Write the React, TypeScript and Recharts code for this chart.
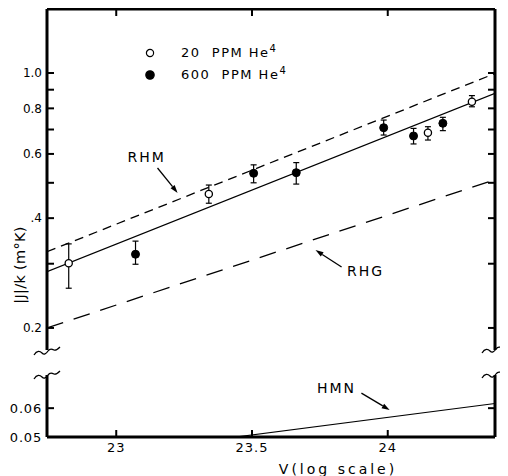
import React from 'react';
import {
  ComposedChart,
  Line,
  Scatter,
  ErrorBar,
  XAxis,
  YAxis,
  ReferenceLine,
  ReferenceDot,
  Legend,
} from 'recharts';

const FONT = '"DejaVu Sans", "Liberation Sans", sans-serif';

// ---------- axes ----------
const xDomain = [22.745, 24.395];
const xTicks = [23, 23.5, 24];
const xTickLabels = ['23', '23.5', '24'];
const upperDomain = [0.174, 1.498];
const upperTicks = [0.2, 0.3, 0.4, 0.5, 0.6, 0.7, 0.8, 0.9, 1.0];
const upperTickLabels = ['0.2', '', '.4', '', '0.6', '', '0.8', '', '1.0'];
const lowerDomain = [0.05, 0.074];
const lowerTicks = [0.05, 0.06];
const lowerTickLabels = ['0.05', '0.06'];

// ---------- data points ----------
const seriesNames = ['20 PPM He', '600 PPM He'];

const openV = [22.825, 23.341, 24.148, 24.31];
const openJ = [0.301, 0.466, 0.686, 0.834];
const openHi = [0.34, 0.493, 0.7125, 0.867];
const openLo = [0.257, 0.4395, 0.655, 0.808];

const filledV = [23.071, 23.506, 23.663, 23.985, 24.095, 24.203];
const filledJ = [0.3185, 0.531, 0.533, 0.708, 0.672, 0.728];
const filledHi = [0.346, 0.56, 0.568, 0.743, 0.705, 0.756];
const filledLo = [0.299, 0.5, 0.496, 0.676, 0.639, 0.695];

// ---------- theory lines ----------
const fitV = [22.745, 24.395];
const fitJ = [0.2852, 0.88];
const rhmV = [22.745, 24.395];
const rhmJ = [0.3236, 0.997];
const rhgV = [22.745, 24.395];
const rhgJ = [0.2, 0.51];
const hmnV = [23.44, 24.395];
const hmnJ = [0.05, 0.0618];

// ---------- annotations (data coords) ----------
const upperNoteNames = ['RHM', 'RHG'];
const upperNoteV = [23.112, 23.918];
const upperNoteJ = [0.589, 0.2866];
const upperArrowFromV = [23.152, 23.83];
const upperArrowFromJ = [0.549, 0.2938];
const upperArrowToV = [23.226, 23.734];
const upperArrowToJ = [0.469, 0.327];

const lowerNoteNames = ['HMN'];
const lowerNoteV = [23.811];
const lowerNoteJ = [0.0681];
const lowerArrowFromV = [23.903];
const lowerArrowFromJ = [0.066];
const lowerArrowToV = [24.007];
const lowerArrowToJ = [0.0593];

const yTitle = '|J|/k (m°K)';
const xTitle = 'V(log scale)';

// ---------- tables ----------
const openData = openV.map((x, i) => ({
  x,
  y: openJ[i],
  err: [openJ[i] - openLo[i], openHi[i] - openJ[i]],
}));
const filledData = filledV.map((x, i) => ({
  x,
  y: filledJ[i],
  err: [filledJ[i] - filledLo[i], filledHi[i] - filledJ[i]],
}));
const toLine = (xs: number[], ys: number[]) => xs.map((x, i) => ({ x, y: ys[i] }));
const fitData = toLine(fitV, fitJ);
const rhmData = toLine(rhmV, rhmJ);
const rhgData = toLine(rhgV, rhgJ);
const hmnData = toLine(hmnV, hmnJ);

const axisLine = { stroke: '#000', strokeWidth: 3 };
const tickLine = { stroke: '#000', strokeWidth: 2 };
const TS = -7;

const Arrow = (props: any) => {
  const { x1, y1, x2, y2 } = props;
  if ([x1, y1, x2, y2].some((v) => v == null || isNaN(v))) return <g />;
  const ang = Math.atan2(y2 - y1, x2 - x1);
  const L = 8;
  const W = 2.6;
  const bx = x2 - L * Math.cos(ang);
  const by = y2 - L * Math.sin(ang);
  const px = -Math.sin(ang) * W;
  const py = Math.cos(ang) * W;
  return (
    <g>
      <line x1={x1} y1={y1} x2={bx} y2={by} stroke="#000" strokeWidth={1.3} />
      <polygon
        points={`${x2},${y2} ${bx + px},${by + py} ${bx - px},${by - py}`}
        fill="#000"
      />
    </g>
  );
};

const OpenDot = (p: any) => (
  <circle cx={p.cx} cy={p.cy} r={3.6} fill="#fff" stroke="#000" strokeWidth={1.3} />
);
const FilledDot = (p: any) => (
  <circle cx={p.cx} cy={p.cy} r={4} fill="#000" stroke="#000" strokeWidth={1} />
);

const renderLegend = (props: any) => {
  const payload = (props.payload || []).filter((e: any) =>
    seriesNames.includes(e.value)
  );
  return (
    <div style={{ fontFamily: FONT, fontSize: 13, letterSpacing: 1.5, color: '#000' }}>
      {payload.map((e: any, i: number) => {
        const filled = seriesNames.indexOf(e.value) === 1;
        return (
          <div key={i} style={{ display: 'flex', alignItems: 'center', height: 22 }}>
            <svg width={10} height={10} style={{ display: 'block' }}>
              <circle
                cx={5}
                cy={5}
                r={filled ? 4.2 : 3.6}
                fill={filled ? '#000' : '#fff'}
                stroke="#000"
                strokeWidth={1.2}
              />
            </svg>
            <span style={{ marginLeft: 26, whiteSpace: 'pre', lineHeight: '14px' }}>
              {e.value.replace(' ', '  ')}
              <sup style={{ fontSize: 10, lineHeight: 0 }}>4</sup>
            </span>
          </div>
        );
      })}
    </div>
  );
};

const YTitle = (props: any) => {
  const vb = props.viewBox || { x: 0, y: 30 };
  const cx = vb.x + 12;
  const cy = vb.y + 256;
  return (
    <text
      x={cx}
      y={cy}
      transform={`rotate(-90 ${cx} ${cy})`}
      textAnchor="middle"
      dominantBaseline="central"
      fontFamily={FONT}
      fontSize={14.5}
      letterSpacing={0.3}
      fill="#000"
    >
      {yTitle}
    </text>
  );
};

const XTitle = (props: any) => {
  const vb = props.viewBox || { x: 39, y: 62 };
  return (
    <text
      x={vb.x + 291}
      y={vb.y + 37}
      textAnchor="middle"
      fontFamily={FONT}
      fontSize={14}
      letterSpacing={3}
      fill="#000"
    >
      {xTitle}
    </text>
  );
};

const noteLabel = (name: string) => ({
  value: name,
  position: 'center' as const,
  fontFamily: FONT,
  fontSize: 14,
  letterSpacing: 2,
  fill: '#000',
});

const Break = ({ cx, cy }: { cx: number; cy: number }) => (
  <path
    d={`M ${cx - 13} ${cy + 4} C ${cx - 10} ${cy - 1} ${cx - 7} ${cy} ${cx - 5} ${cy + 2} C ${cx - 3} ${cy + 4} ${cx - 1} ${cy + 3} ${cx + 1} ${cy} C ${cx + 3} ${cy - 3} ${cx + 5} ${cy - 2} ${cx + 7} ${cy - 1} C ${cx + 9} ${cy} ${cx + 11} ${cy - 2} ${cx + 13} ${cy - 4}`}
    fill="none"
    stroke="#000"
    strokeWidth={1.3}
  />
);

export default function App() {
  return (
    <div style={{ position: 'relative', width: 500, height: 468, fontFamily: FONT }}>
      {/* upper panel */}
      <div style={{ position: 'absolute', left: 0, top: -29 }}>
        <ComposedChart width={500} height={371} margin={{ top: 0, right: 8, bottom: 0, left: 0 }}>
          <XAxis
            xAxisId="top"
            orientation="top"
            type="number"
            dataKey="x"
            domain={xDomain}
            allowDataOverflow
            ticks={xTicks}
            height={30}
            axisLine={axisLine}
            tickLine={tickLine}
            tickSize={TS}
            tickFormatter={() => ''}
          />
          <YAxis
            yAxisId="left"
            orientation="left"
            dataKey="y"
            scale="log"
            type="number"
            domain={upperDomain}
            allowDataOverflow
            ticks={upperTicks}
            width={39}
            axisLine={axisLine}
            tickLine={tickLine}
            tickSize={TS}
            tickMargin={12}
            tick={{ fontFamily: FONT, fontSize: 12, fill: '#000' }}
            tickFormatter={(v: number, i: number) => upperTickLabels[i] ?? ''}
            label={YTitle}
          />
          <YAxis
            yAxisId="right"
            orientation="right"
            dataKey="y"
            scale="log"
            type="number"
            domain={upperDomain}
            allowDataOverflow
            ticks={upperTicks}
            width={5}
            axisLine={axisLine}
            tickLine={tickLine}
            tickSize={TS}
            tickFormatter={() => ''}
          />
          <Legend
            layout="vertical"
            align="center"
            verticalAlign="middle"
            content={renderLegend}
            wrapperStyle={{ top: 63, left: 137, width: 200, height: 44 }}
          />
          <Line
            xAxisId="top"
            yAxisId="left"
            data={rhmData}
            dataKey="y"
            stroke="#000"
            strokeWidth={1.3}
            strokeDasharray="9 6"
            dot={false}
            legendType="none"
            isAnimationActive={false}
          />
          <Line
            xAxisId="top"
            yAxisId="left"
            data={fitData}
            dataKey="y"
            stroke="#000"
            strokeWidth={1.2}
            dot={false}
            legendType="none"
            isAnimationActive={false}
          />
          <Line
            xAxisId="top"
            yAxisId="left"
            data={rhgData}
            dataKey="y"
            stroke="#000"
            strokeWidth={1.3}
            strokeDasharray="17 11"
            dot={false}
            legendType="none"
            isAnimationActive={false}
          />
          <Scatter
            xAxisId="top"
            yAxisId="left"
            name={seriesNames[0]}
            data={openData}
            dataKey="y"
            fill="#fff"
            shape={OpenDot}
            isAnimationActive={false}
          >
            <ErrorBar dataKey="err" direction="y" width={3} stroke="#000" strokeWidth={1.2} />
          </Scatter>
          <Scatter
            xAxisId="top"
            yAxisId="left"
            name={seriesNames[1]}
            data={filledData}
            dataKey="y"
            fill="#000"
            shape={FilledDot}
            isAnimationActive={false}
          >
            <ErrorBar dataKey="err" direction="y" width={3} stroke="#000" strokeWidth={1.2} />
          </Scatter>
          {upperNoteNames.map((n, i) => (
            <ReferenceDot
              key={n}
              xAxisId="top"
              yAxisId="left"
              x={upperNoteV[i]}
              y={upperNoteJ[i]}
              r={0}
              fill="none"
              stroke="none"
              label={noteLabel(n)}
            />
          ))}
          {upperNoteNames.map((n, i) => (
            <ReferenceLine
              key={n + '-arrow'}
              xAxisId="top"
              yAxisId="left"
              segment={[
                { x: upperArrowFromV[i], y: upperArrowFromJ[i] },
                { x: upperArrowToV[i], y: upperArrowToJ[i] },
              ]}
              stroke="#000"
              shape={Arrow}
            />
          ))}
        </ComposedChart>
      </div>

      {/* lower panel */}
      <div style={{ position: 'absolute', left: 0, top: 367 }}>
        <ComposedChart width={500} height={110} margin={{ top: 0, right: 8, bottom: 0, left: 0 }}>
          <XAxis
            xAxisId="bottom"
            orientation="bottom"
            type="number"
            dataKey="x"
            domain={xDomain}
            allowDataOverflow
            ticks={xTicks}
            height={48}
            axisLine={axisLine}
            tickLine={tickLine}
            tickSize={TS}
            tickMargin={13}
            tick={{ fontFamily: FONT, fontSize: 13, fill: '#000', letterSpacing: 1 }}
            tickFormatter={(v: number, i: number) => xTickLabels[i] ?? ''}
            label={XTitle}
          />
          <YAxis
            yAxisId="left"
            orientation="left"
            dataKey="y"
            scale="log"
            type="number"
            domain={lowerDomain}
            allowDataOverflow
            ticks={lowerTicks}
            width={39}
            axisLine={axisLine}
            tickLine={tickLine}
            tickSize={TS}
            tickMargin={12}
            tick={{ fontFamily: FONT, fontSize: 13, fill: '#000', letterSpacing: 0.8 }}
            tickFormatter={(v: number, i: number) => lowerTickLabels[i] ?? ''}
          />
          <YAxis
            yAxisId="right"
            orientation="right"
            dataKey="y"
            scale="log"
            type="number"
            domain={lowerDomain}
            allowDataOverflow
            ticks={[lowerTicks[1]]}
            width={5}
            axisLine={axisLine}
            tickLine={tickLine}
            tickSize={TS}
            tickFormatter={() => ''}
          />
          <Line
            xAxisId="bottom"
            yAxisId="left"
            data={hmnData}
            dataKey="y"
            stroke="#000"
            strokeWidth={1.2}
            dot={false}
            legendType="none"
            isAnimationActive={false}
          />
          {lowerNoteNames.map((n, i) => (
            <ReferenceDot
              key={n}
              xAxisId="bottom"
              yAxisId="left"
              x={lowerNoteV[i]}
              y={lowerNoteJ[i]}
              r={0}
              fill="none"
              stroke="none"
              label={noteLabel(n)}
            />
          ))}
          {lowerNoteNames.map((n, i) => (
            <ReferenceLine
              key={n + '-arrow'}
              xAxisId="bottom"
              yAxisId="left"
              segment={[
                { x: lowerArrowFromV[i], y: lowerArrowFromJ[i] },
                { x: lowerArrowToV[i], y: lowerArrowToJ[i] },
              ]}
              stroke="#000"
              shape={Arrow}
            />
          ))}
        </ComposedChart>
      </div>

      {/* axis break marks */}
      <svg
        width={500}
        height={468}
        style={{ position: 'absolute', left: 0, top: 0, pointerEvents: 'none' }}
      >
        <Break cx={39} cy={343} />
        <Break cx={39} cy={367} />
        <Break cx={487} cy={341} />
        <Break cx={487} cy={366} />
      </svg>
    </div>
  );
}
